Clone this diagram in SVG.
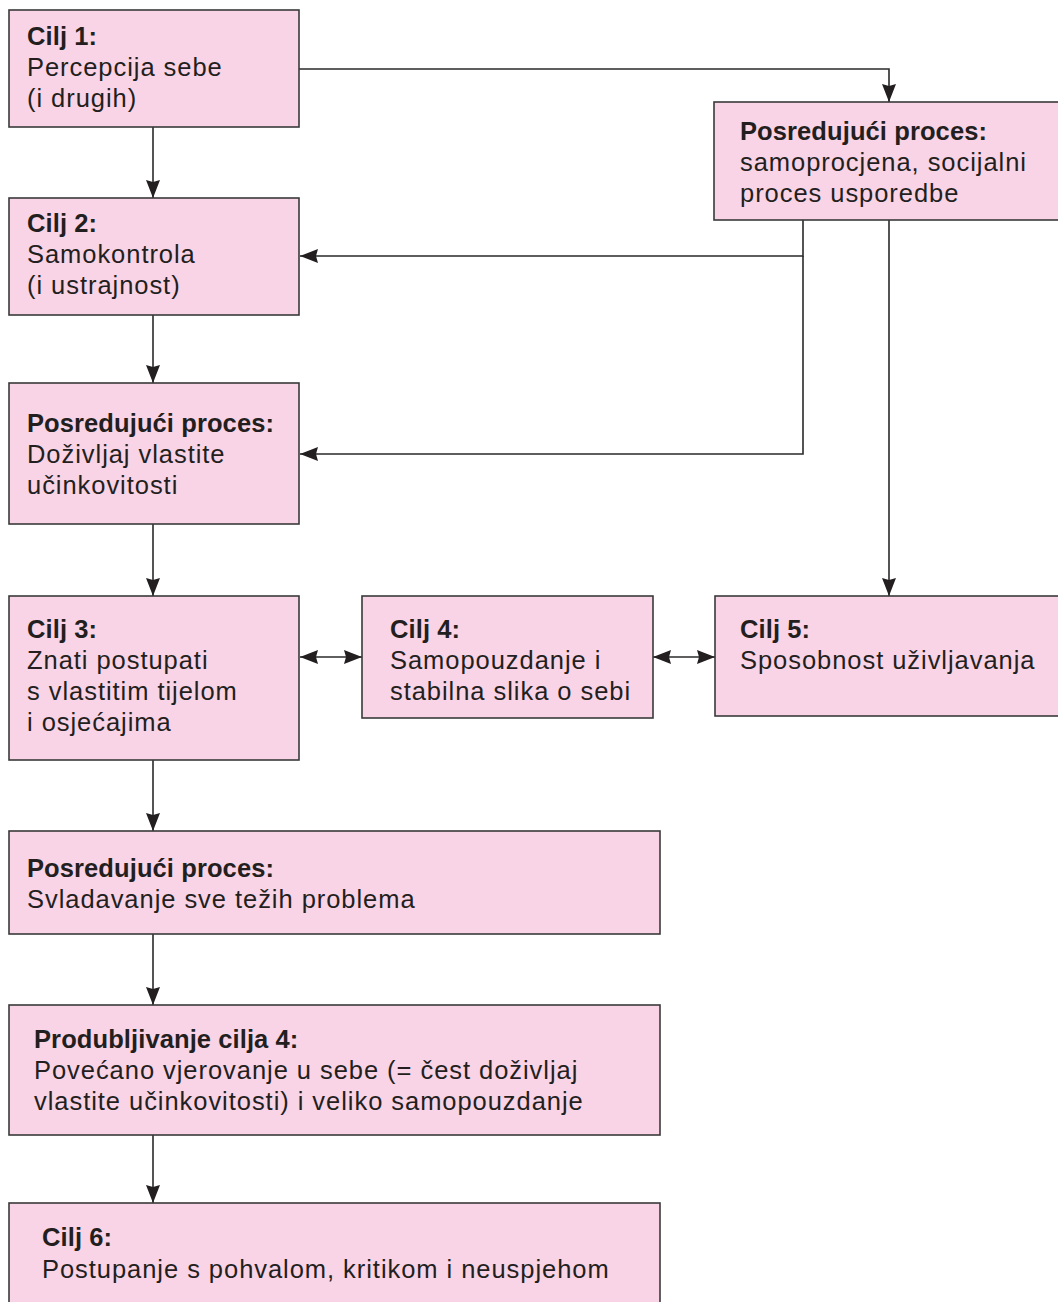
<svg xmlns="http://www.w3.org/2000/svg" width="1058" height="1302" viewBox="0 0 1058 1302">
<style>
.box{fill:#f9d4e6;stroke:#3a3a3a;stroke-width:1.6}
.t{font-family:"Liberation Sans",Arial,sans-serif;font-size:25.5px;fill:#231f20;letter-spacing:0.95px}
.b{font-weight:bold;letter-spacing:0.1px}
.c{fill:none;stroke:#2a2a2a;stroke-width:1.6}
</style>
<defs>
<marker id="ah" markerUnits="userSpaceOnUse" markerWidth="20" markerHeight="16" refX="18" refY="7" orient="auto-start-reverse" viewBox="0 0 20 14">
<path d="M0,0 L18,7 L0,14 L2,7 Z" fill="#231f20"/>
</marker>
</defs>
<rect width="1058" height="1302" fill="#fff"/>
<g id="connectors">
<path class="c" d="M299,69 H889 V102" marker-end="url(#ah)"/>
<path class="c" d="M153,127 V198" marker-end="url(#ah)"/>
<path class="c" d="M803,220 V256 H300" marker-end="url(#ah)"/>
<path class="c" d="M803,256 V454 H300" marker-end="url(#ah)"/>
<path class="c" d="M889,220 V596" marker-end="url(#ah)"/>
<path class="c" d="M153,315 V383" marker-end="url(#ah)"/>
<path class="c" d="M153,524 V596" marker-end="url(#ah)"/>
<path class="c" d="M300,657 H362" marker-start="url(#ah)" marker-end="url(#ah)"/>
<path class="c" d="M653,657 H715" marker-start="url(#ah)" marker-end="url(#ah)"/>
<path class="c" d="M153,760 V831" marker-end="url(#ah)"/>
<path class="c" d="M153,934 V1005" marker-end="url(#ah)"/>
<path class="c" d="M153,1135 V1203" marker-end="url(#ah)"/>
</g>
<g id="cilj1">
<rect class="box" x="9" y="10" width="290" height="117"/>
<text class="t b" x="27" y="45">Cilj 1:</text>
<text class="t" x="27" y="76">Percepcija sebe</text>
<text class="t" x="27" y="107">(i drugih)</text>
</g>
<g id="posredujuci1">
<rect class="box" x="714" y="102" width="350" height="118"/>
<text class="t b" x="740" y="140">Posredujući proces:</text>
<text class="t" x="740" y="171">samoprocjena, socijalni</text>
<text class="t" x="740" y="202">proces usporedbe</text>
</g>
<g id="cilj2">
<rect class="box" x="9" y="198" width="290" height="117"/>
<text class="t b" x="27" y="232">Cilj 2:</text>
<text class="t" x="27" y="263">Samokontrola</text>
<text class="t" x="27" y="294">(i ustrajnost)</text>
</g>
<g id="posredujuci2">
<rect class="box" x="9" y="383" width="290" height="141"/>
<text class="t b" x="27" y="432">Posredujući proces:</text>
<text class="t" x="27" y="463">Doživljaj vlastite</text>
<text class="t" x="27" y="494">učinkovitosti</text>
</g>
<g id="cilj3">
<rect class="box" x="9" y="596" width="290" height="164"/>
<text class="t b" x="27" y="638">Cilj 3:</text>
<text class="t" x="27" y="669">Znati postupati</text>
<text class="t" x="27" y="700">s vlastitim tijelom</text>
<text class="t" x="27" y="731">i osjećajima</text>
</g>
<g id="cilj4">
<rect class="box" x="362" y="596" width="291" height="122"/>
<text class="t b" x="390" y="638">Cilj 4:</text>
<text class="t" x="390" y="669">Samopouzdanje i</text>
<text class="t" x="390" y="700">stabilna slika o sebi</text>
</g>
<g id="cilj5">
<rect class="box" x="715" y="596" width="349" height="120"/>
<text class="t b" x="740" y="638">Cilj 5:</text>
<text class="t" x="740" y="669">Sposobnost uživljavanja</text>
</g>
<g id="posredujuci3">
<rect class="box" x="9" y="831" width="651" height="103"/>
<text class="t b" x="27" y="877">Posredujući proces:</text>
<text class="t" x="27" y="908">Svladavanje sve težih problema</text>
</g>
<g id="produbljivanje">
<rect class="box" x="9" y="1005" width="651" height="130"/>
<text class="t b" x="34" y="1048">Produbljivanje cilja 4:</text>
<text class="t" x="34" y="1079">Povećano vjerovanje u sebe (= čest doživljaj</text>
<text class="t" x="34" y="1110">vlastite učinkovitosti) i veliko samopouzdanje</text>
</g>
<g id="cilj6">
<rect class="box" x="9" y="1203" width="651" height="110"/>
<text class="t b" x="42" y="1246">Cilj 6:</text>
<text class="t" x="42" y="1278">Postupanje s pohvalom, kritikom i neuspjehom</text>
</g>
</svg>
